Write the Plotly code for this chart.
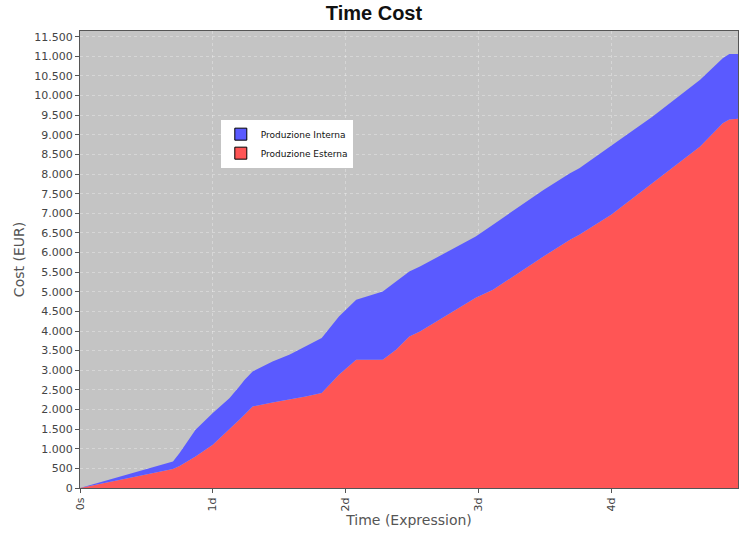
import plotly.graph_objects as go

# tempo in giorni
giorni = [0, 0.70, 0.75, 0.87, 1.0, 1.125, 1.2, 1.24, 1.3, 1.45, 1.58, 1.70, 1.82, 1.95,
          2.08, 2.28, 2.38, 2.48, 2.56, 2.98, 3.11, 3.49, 3.69, 3.76, 4.0, 4.31, 4.67,
          4.84, 4.89, 4.955]

# costi (EUR)
esterna = [0, 484, 560, 800, 1100, 1485, 1739, 1870, 2078, 2180, 2249, 2330, 2419, 2885,
           3267, 3267, 3522, 3860, 3988, 4850, 5050, 5900, 6323, 6450, 6960, 7767, 8700,
           9295, 9390, 9410]
interna = [0, 193, 331, 685, 810, 805, 848, 890, 892, 1044, 1151, 1276, 1401, 1485,
           1528, 1739, 1739, 1656, 1655, 1557, 1660, 1696, 1699, 1699, 1760, 1696, 1700,
           1655, 1670, 1650]

tick_giorni = [0, 1, 2, 3, 4]
tick_label = ['0s', '1d', '2d', '3d', '4d']

BLU = '#5a5aff'
ROSSO = '#ff5555'

fig = go.Figure()

fig.add_trace(go.Scatter(
    x=giorni, y=esterna, name='Produzione Esterna',
    mode='lines', stackgroup='costi', showlegend=False,
    line=dict(width=0, color=ROSSO), fillcolor=ROSSO
))
fig.add_trace(go.Scatter(
    x=giorni, y=interna, name='Produzione Interna',
    mode='lines', stackgroup='costi', showlegend=False,
    line=dict(width=0, color=BLU), fillcolor=BLU
))

# legenda con quadratini come nell'originale
for nome, col in [('Produzione Interna', BLU), ('Produzione Esterna', ROSSO)]:
    fig.add_trace(go.Scatter(
        x=[None], y=[None], name=nome, mode='markers',
        marker=dict(symbol='square', size=12, color=col, line=dict(width=1, color='black'))
    ))

fig.update_layout(
    width=748, height=535,
    margin=dict(l=80, r=10, t=31, b=47),
    paper_bgcolor='white', plot_bgcolor='#c4c4c4',
    separators=',.',
    font=dict(family='DejaVu Sans', size=11, color='#444444'),
    title=dict(text='<b>Time Cost</b>', x=0.5, xanchor='center', y=0.976, yanchor='middle',
               font=dict(family='Liberation Sans', size=20, color='#111111')),
    legend=dict(x=0.214, y=0.806, xanchor='left', yanchor='top',
                bgcolor='white', borderwidth=0, traceorder='normal',
                font=dict(family='DejaVu Sans', size=9, color='#111111'),
                itemwidth=30, tracegroupgap=0),
    showlegend=True,
)

fig.update_xaxes(
    range=[0, 4.955], tickvals=tick_giorni, ticktext=tick_label, tickangle=-90,
    ticks='outside', ticklen=4, tickcolor='#555555',
    showline=True, linecolor='#555555', mirror=True,
    showgrid=True, gridcolor='rgba(255,255,255,0.3)', griddash='dot',
    title=dict(text='Time (Expression)', font=dict(size=14, color='#555555'), standoff=4),
    zeroline=False, automargin=False,
)
fig.update_yaxes(
    range=[0, 11645], dtick=500, tick0=0, tickformat=',d',
    ticks='outside', ticklen=4, tickcolor='#555555',
    showline=True, linecolor='#555555', mirror=True,
    showgrid=True, gridcolor='rgba(255,255,255,0.3)', griddash='dot',
    title=dict(text='Cost (EUR)', font=dict(size=14, color='#555555'), standoff=6),
    zeroline=False, automargin=False,
)

# tolgo il margine di default del body e la modebar
fig.write_html('out.html', config={'displayModeBar': False},
               post_script="document.body.style.margin='0';")
